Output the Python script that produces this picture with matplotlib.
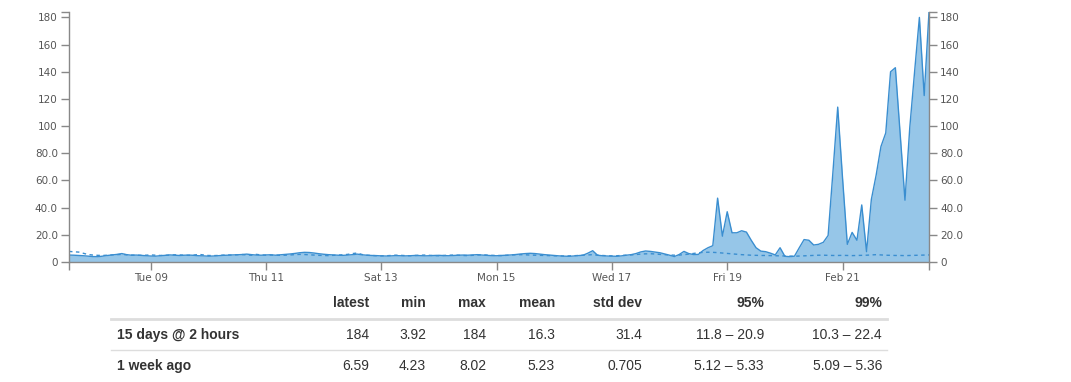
import numpy as np
import pandas as pd
import matplotlib
matplotlib.use("Agg")
import matplotlib.pyplot as plt
from matplotlib.ticker import FuncFormatter, FixedLocator

# 15 days of 2 hour samples
start = "2016-02-07 14:00"
current = [
    5.1, 5.0, 4.8, 4.6, 4.3, 4.0, 3.9, 4.3, 4.8, 5.2,
    5.6, 6.2, 5.4, 5.0, 5.1, 4.9, 4.6, 4.4, 4.3, 4.6,
    4.9, 5.2, 5.0, 4.8, 5.0, 5.1, 4.9, 4.6, 4.5, 4.3,
    4.4, 4.6, 4.9, 5.0, 5.2, 5.3, 5.5, 5.8, 5.4, 5.1,
    5.0, 5.2, 5.3, 5.0, 5.3, 5.6, 5.9, 6.3, 6.8, 7.1,
    7.0, 6.6, 6.1, 5.7, 5.4, 5.2, 5.0, 4.9, 5.1, 5.4,
    5.8, 5.3, 5.0, 4.8, 4.7, 4.5, 4.4, 4.5, 4.7, 4.6,
    4.5, 4.6, 4.8, 4.7, 4.5, 4.6, 4.8, 4.9, 4.7, 4.6,
    4.8, 5.0, 5.1, 5.0, 5.2, 5.4, 5.1, 4.9, 4.7, 4.6,
    4.8, 5.0, 5.2, 5.5, 5.9, 6.2, 6.4, 6.2, 5.8, 5.4,
    5.1, 4.8, 4.5, 4.3, 4.2, 4.4, 4.7, 5.0, 6.5, 8.3,
    5.0, 4.6, 4.4, 4.3, 4.2, 4.5, 5.0, 5.4, 6.2, 7.4,
    8.1, 7.8, 7.3, 6.8, 5.9, 5.0, 4.0, 5.5, 7.8, 6.2,
    5.5, 5.6, 8.5, 10.5, 12.0, 47.0, 19.0, 37.0, 21.5, 21.5,
    23.0, 22.0, 16.0, 10.5, 8.0, 7.6, 6.5, 5.2, 10.5, 4.2,
    3.92, 4.3, 10.5, 16.5, 16.0, 12.5, 13.0, 14.5, 19.5, 66.0,
    114.0, 62.0, 13.0, 21.8, 16.0, 42.0, 7.6, 46.0, 64.0, 85.0,
    95.0, 140.0, 143.0, 94.0, 45.5, 99.0, 140.0, 180.0, 122.5, 184.0,
]
week_ago = [
    7.8, 7.5, 7.3, 6.4, 5.5, 5.1, 4.9, 4.8, 5.0, 5.2,
    5.4, 5.6, 5.3, 5.1, 5.0, 4.9, 5.0, 5.2, 5.0, 4.8,
    4.9, 5.1, 5.3, 5.2, 5.0, 4.9, 5.1, 5.6, 5.2, 4.8,
    4.7, 4.8, 5.0, 5.2, 5.1, 5.3, 5.5, 5.2, 5.0, 5.6,
    5.2, 5.0, 5.1, 5.0, 4.9, 5.0, 5.2, 5.4, 5.6, 5.5,
    5.3, 5.1, 4.9, 4.8, 4.7, 4.9, 5.1, 5.3, 5.6, 6.2,
    6.6, 5.5, 5.0, 4.8, 4.6, 4.5, 4.6, 4.8, 5.0, 4.9,
    4.7, 4.6, 4.8, 5.0, 5.1, 4.9, 4.7, 4.6, 4.8, 5.0,
    5.1, 5.0, 4.8, 4.7, 4.9, 5.1, 5.3, 5.1, 4.9, 4.8,
    4.7, 4.9, 5.1, 5.3, 5.4, 5.3, 5.1, 5.0, 4.9, 4.8,
    4.7, 4.6, 4.5, 4.4, 4.5, 4.6, 4.8, 5.0, 5.2, 5.4,
    5.0, 4.8, 4.6, 4.5, 4.6, 4.8, 5.0, 5.2, 5.5, 5.8,
    6.0, 6.1, 5.9, 5.6, 5.4, 5.2, 5.0, 5.1, 5.4, 5.8,
    6.3, 6.8, 7.1, 7.2, 7.1, 6.9, 6.6, 6.3, 6.0, 5.7,
    5.4, 5.2, 5.0, 4.9, 4.8, 4.8, 4.7, 4.6, 4.5, 4.4,
    4.3, 4.23, 4.4, 4.6, 4.8, 4.9, 5.0, 5.0, 4.9, 4.8,
    4.8, 4.9, 4.8, 4.7, 4.8, 4.9, 5.0, 5.2, 5.4, 5.2,
    5.0, 4.9, 4.8, 4.8, 4.7, 4.8, 4.9, 5.0, 5.1, 5.2,
]
tick_days = ["2016-02-09", "2016-02-11", "2016-02-13", "2016-02-15",
             "2016-02-17", "2016-02-19", "2016-02-21"]
tick_labels = ["Tue 09", "Thu 11", "Sat 13", "Mon 15", "Wed 17", "Fri 19", "Feb 21"]

col_names = ["latest", "min", "max", "mean", "std dev", "95%", "99%"]
row_names = ["15 days @ 2 hours", "1 week ago"]
row_values = [
    ["184", "3.92", "184", "16.3", "31.4", "11.8 \u2013 20.9", "10.3 \u2013 22.4"],
    ["6.59", "4.23", "8.02", "5.23", "0.705", "5.12 \u2013 5.33", "5.09 \u2013 5.36"],
]

W, H = 1071, 382
line_c = "#3a8ed0"
fill_c = "#96c6e8"
axis_c = "#888888"
text_c = "#555555"

dates = pd.date_range(start, periods=len(current), freq="2h")
x = (dates - dates[0]) / pd.Timedelta(hours=1)
ticks = (pd.to_datetime(tick_days) - dates[0]) / pd.Timedelta(hours=1)

fig = plt.figure(figsize=(W / 100, H / 100), dpi=100)
ax = fig.add_axes([69 / W, 1 - 262 / H, 860 / W, 250 / H])

ax.fill_between(x, 0, current, color=fill_c, lw=0)
ax.plot(x, current, color=line_c, lw=1)
ax.plot(x, week_ago, color=line_c, lw=1, ls=(0, (2.5, 2.5)))

ax.set_xlim(x[0], x[-1])
ax.set_ylim(0, max(current))

for s in ["top"]:
    ax.spines[s].set_visible(False)
for s in ["left", "right", "bottom"]:
    ax.spines[s].set_color(axis_c)
    ax.spines[s].set_linewidth(1)

ax.set_yticks(np.arange(0, 181, 20))
ax.yaxis.set_major_formatter(FuncFormatter(
    lambda v, p: "0" if v == 0 else ("%.1f" % v if v < 100 else "%d" % v)))
ax.yaxis.set_minor_locator(FixedLocator([max(current)]))
ax.set_xticks(ticks)
ax.set_xticklabels(tick_labels)
ax.xaxis.set_minor_locator(FixedLocator([x[0], x[-1]]))

ax.tick_params(axis="y", which="both", left=True, right=True, labelleft=True,
               labelright=True, length=6, width=1, color=axis_c,
               labelsize=7.5, labelcolor=text_c, pad=2)
ax.tick_params(axis="x", which="both", length=6, width=1, color=axis_c,
               labelsize=7.5, labelcolor=text_c, pad=2)
for t in ax.get_yticklabels() + ax.get_xticklabels():
    t.set_family("DejaVu Sans")

# stats table below the chart
def fx(px):
    return px / W

def fy(py):
    return 1 - py / H

col_right = [369, 426, 486, 555, 642, 764, 882]
tfont = dict(family=["Liberation Sans", "DejaVu Sans"], fontsize=10, color="#333333")
for name, xr in zip(col_names, col_right):
    fig.text(fx(xr), fy(303), name, ha="right", va="center", weight="bold", **tfont)

fig.add_artist(plt.Line2D([fx(111), fx(887)], [fy(319), fy(319)], color="#dddddd", lw=2))
fig.add_artist(plt.Line2D([fx(111), fx(887)], [fy(350), fy(350)], color="#dddddd", lw=1))

for i, (name, vals) in enumerate(zip(row_names, row_values)):
    yy = fy(335 + i * 31)
    fig.text(fx(117), yy, name, ha="left", va="center", weight="bold", **tfont)
    for v, xr in zip(vals, col_right):
        fig.text(fx(xr), yy, v, ha="right", va="center", **tfont)

fig.savefig("out.png", dpi=100)
